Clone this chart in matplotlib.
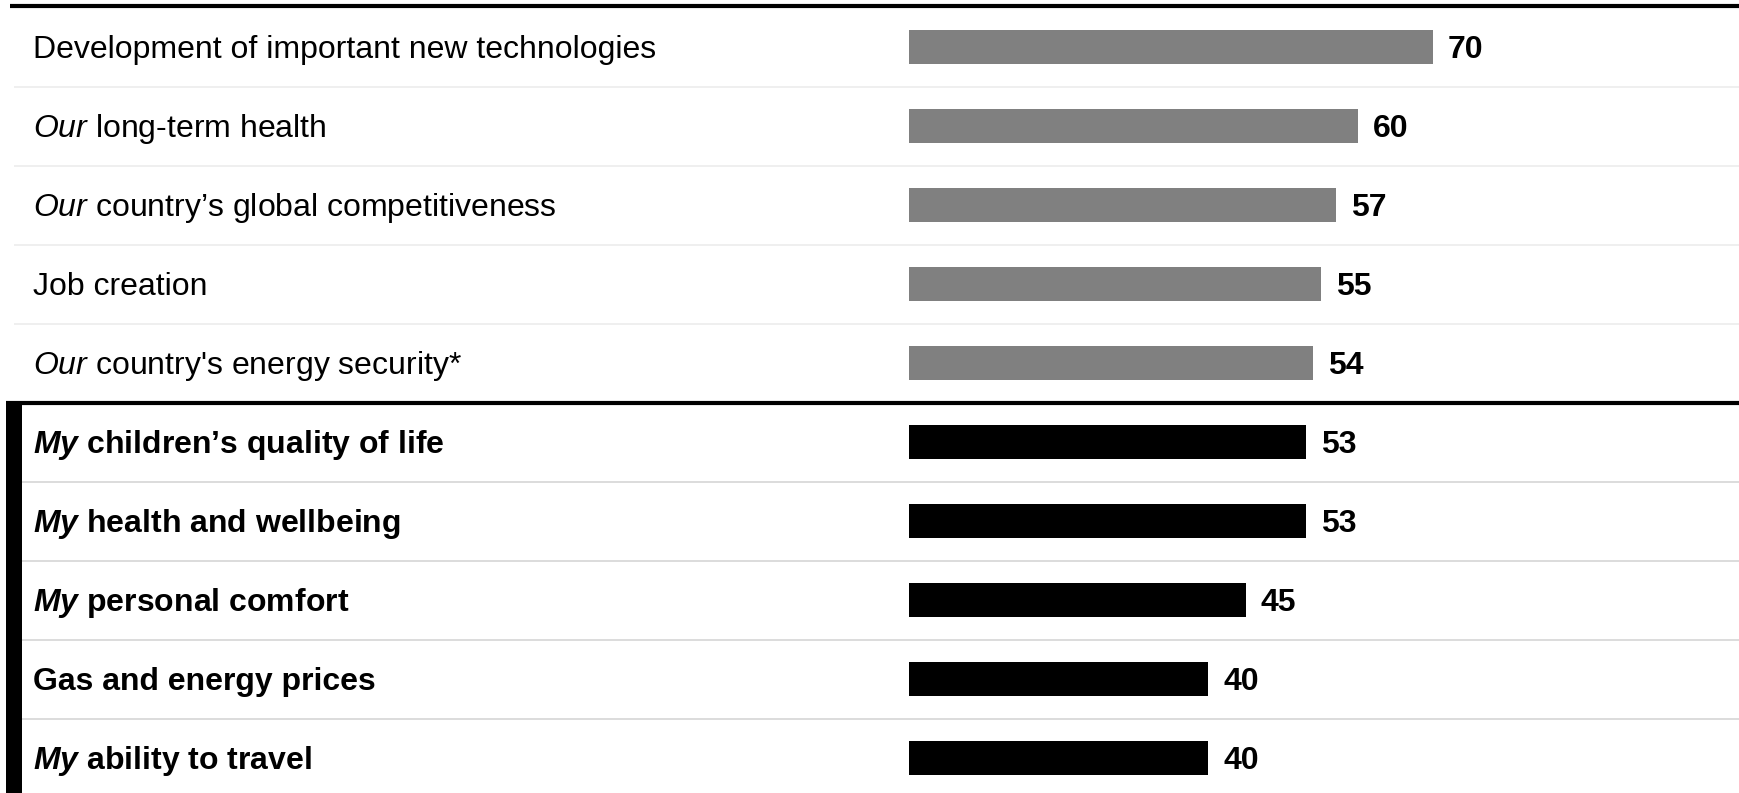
import matplotlib.pyplot as plt
from matplotlib.patches import Rectangle

plt.rcParams['font.family'] = ['Liberation Sans', 'DejaVu Sans']
plt.rcParams['mathtext.fontset'] = 'custom'
plt.rcParams['mathtext.rm'] = 'Liberation Sans'
plt.rcParams['mathtext.it'] = 'Liberation Sans:italic'
plt.rcParams['mathtext.bf'] = 'Liberation Sans:bold'
plt.rcParams['mathtext.bfit'] = 'Liberation Sans:italic:bold'

# ------------------------------
# Data
# ------------------------------
labels = [
    r"Development of important new technologies",
    r"$\mathit{Our}$ long-term health",
    r"$\mathit{Our}$ country’s global competitiveness",
    r"Job creation",
    r"$\mathit{Our}$ country's energy security*",
    r"$\mathbfit{My}$ children’s quality of life",
    r"$\mathbfit{My}$ health and wellbeing",
    r"$\mathbfit{My}$ personal comfort",
    r"Gas and energy prices",
    r"$\mathbfit{My}$ ability to travel",
]
values = [70, 60, 57, 55, 54, 53, 53, 45, 40, 40]
is_personal = [False] * 5 + [True] * 5

W, H = 1739, 793
fig = plt.figure(figsize=(W / 100, H / 100), dpi=100)
ax = fig.add_axes([0, 0, 1, 1])

# pixel layout -> data limits (bar zero at x=909px, 7.486 px per unit; rows 79px apart)
x0, ppu = 909, 7.486
ax.set_xlim(-x0 / ppu, (W - x0) / ppu)
row0, pitch = 47, 79
ax.set_ylim((H - row0) / pitch, -row0 / pitch)
ax.axis('off')

ytrans = ax.get_yaxis_transform()
dy = 0.035  # nudge text down a touch

for i, (lab, v, pers) in enumerate(zip(labels, values, is_personal)):
    color = 'black' if pers else '#808080'
    ax.barh(i, v, height=0.42, color=color)
    weight = 'bold' if pers else 'normal'
    ax.text(33 / W, i + dy, lab, transform=ytrans, fontsize=23, fontweight=weight,
            va='center', ha='left', color='black')
    ax.text(v + 2.0, i + dy, str(v), fontsize=23, fontweight='bold',
            va='center', ha='left', color='black')

# row separators
for i in range(len(labels)):
    y = i + 0.5
    if i == 4:
        continue
    if is_personal[i]:
        sep_color, start = '#d9d9d9', 22 / W
    else:
        sep_color, start = '#eeeeee', 14 / W
    ax.plot([start, 1], [y, y], transform=ytrans, color=sep_color, lw=1.3,
            solid_capstyle='butt')

# top rule and group divider
ax.plot([10 / W, 1], [-0.52, -0.52], transform=ytrans, color='black', lw=3,
        solid_capstyle='butt')
ax.plot([6 / W, 1], [4.5, 4.5], transform=ytrans, color='black', lw=3,
        solid_capstyle='butt')

# left black bar marking the personal group
ax.add_patch(Rectangle((6 / W, 4.5), 16 / W, 10, transform=ytrans,
                       color='black', lw=0, zorder=3))

fig.savefig('out.png', dpi=100)
